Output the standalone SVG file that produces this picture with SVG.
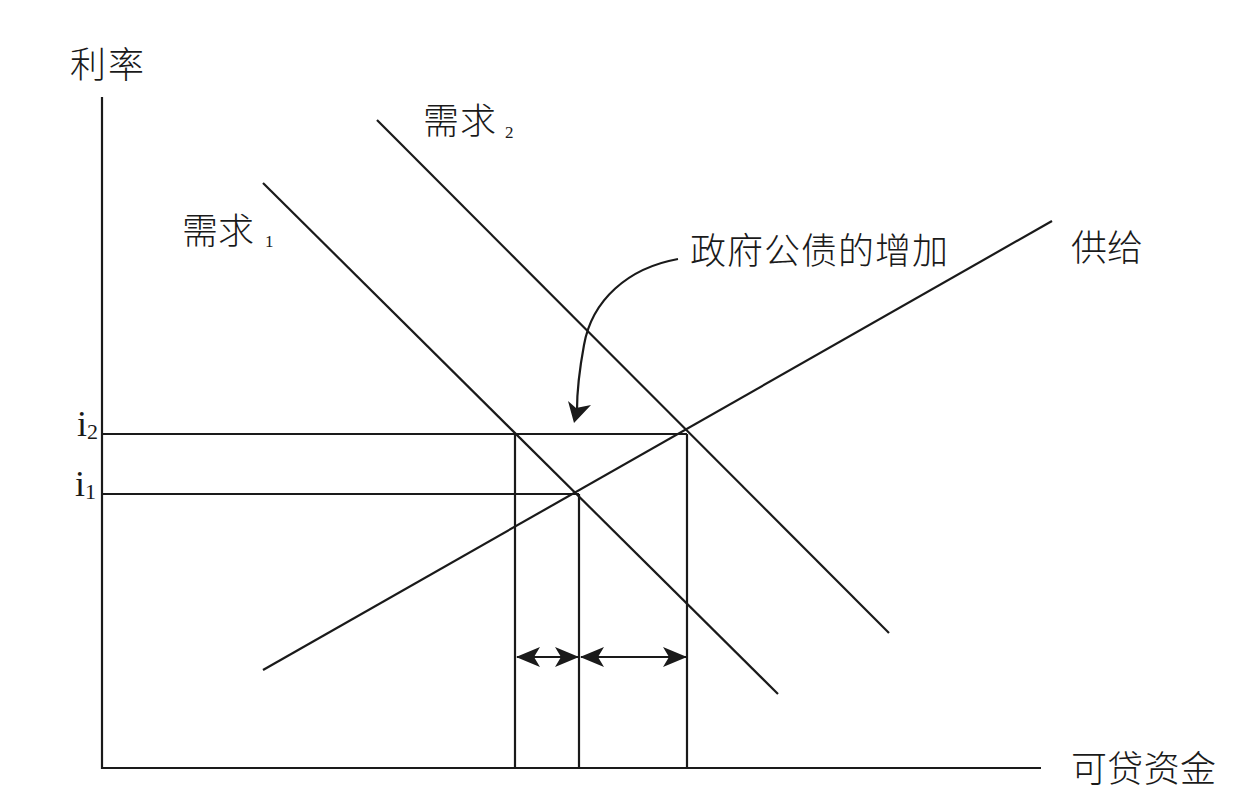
<svg xmlns="http://www.w3.org/2000/svg" width="1236" height="800" viewBox="0 0 1236 800">
<style>
.ln{stroke:#1a1a1a;stroke-width:2.2;fill:none}
.cjk{font-family:"Liberation Serif","Noto Sans CJK SC",serif;font-size:36px;fill:#1a1a1a;font-weight:300}
.lat{font-family:"Liberation Serif",serif;fill:#1a1a1a}
</style>
<defs>
<marker id="ah" viewBox="0 0 24 20" refX="23" refY="10" markerWidth="24" markerHeight="20" markerUnits="userSpaceOnUse" orient="auto-start-reverse">
<path d="M0,0 L24,10 L0,20 L6,10 Z" fill="#1a1a1a"/>
</marker>
</defs>
<rect width="1236" height="800" fill="#fff"/>
<g id="axes">
<line class="ln" x1="102" y1="97" x2="102" y2="769"/>
<line class="ln" x1="101" y1="768" x2="1041" y2="768"/>
<text class="cjk" x="70" y="78" textLength="74">利率</text>
<text class="cjk" x="1071" y="782" textLength="145">可贷资金</text>
</g>
<g id="demand1">
<line class="ln" x1="263" y1="183" x2="778" y2="694"/>
<text class="cjk" x="182" y="244" textLength="72">需求</text>
<text class="lat" x="265" y="247" font-size="17">1</text>
</g>
<g id="demand2">
<line class="ln" x1="377" y1="120" x2="889" y2="633"/>
<text class="cjk" x="423" y="134" textLength="73">需求</text>
<text class="lat" x="505" y="138" font-size="17">2</text>
</g>
<g id="supply">
<line class="ln" x1="263" y1="670" x2="1052" y2="221"/>
<text class="cjk" x="1071" y="261" textLength="72">供给</text>
</g>
<g id="label-debt">
<text class="cjk" x="690" y="264" textLength="258">政府公债的增加</text>
</g>
<g id="levels">
<text class="lat" x="77" y="436" font-size="36">i<tspan font-size="22" dy="3">2</tspan></text>
<text class="lat" x="75" y="496" font-size="36">i<tspan font-size="22" dy="3">1</tspan></text>
</g>
<g id="connectors">
<line class="ln" x1="102" y1="434" x2="687" y2="434"/>
<line class="ln" x1="102" y1="494" x2="579" y2="494"/>
<line class="ln" x1="515" y1="434" x2="515" y2="768"/>
<line class="ln" x1="579" y1="494" x2="579" y2="768"/>
<line class="ln" x1="687" y1="434" x2="687" y2="768"/>
<line class="ln" x1="517" y1="657" x2="578" y2="657" marker-start="url(#ah)" marker-end="url(#ah)"/>
<line class="ln" x1="581" y1="657" x2="686" y2="657" marker-start="url(#ah)" marker-end="url(#ah)"/>
<path class="ln" d="M678,259 C628,268 592,300 584,345 C579,372 577,392 577,410"/>
<path d="M574,423 L568,401 L576,408 L591,405 Z" fill="#1a1a1a"/>
</g>
</svg>
